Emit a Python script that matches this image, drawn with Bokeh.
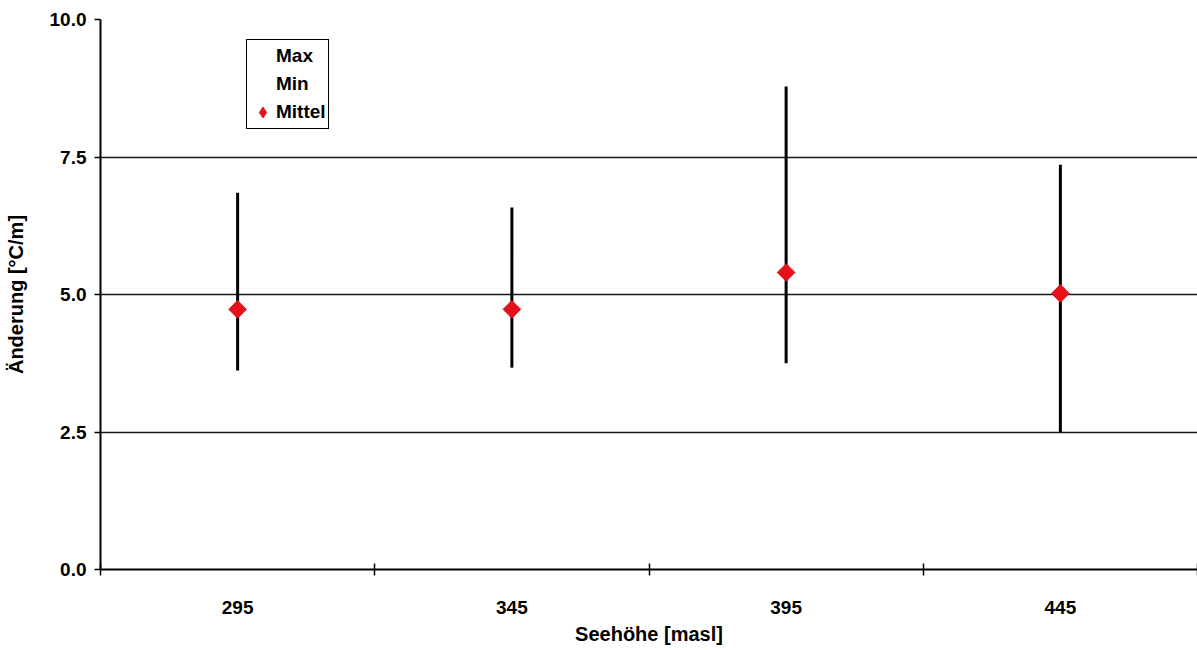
import numpy as np
from bokeh.plotting import figure
from bokeh.models import FixedTicker, Legend, LegendItem, ColumnDataSource
from bokeh.embed import file_html
from bokeh.resources import INLINE

# ---- data ----
categories = ["295", "345", "395", "445"]
max_vals = [6.85, 6.58, 8.78, 7.36]
min_vals = [3.62, 3.67, 3.75, 2.50]
mean_vals = [4.73, 4.73, 5.40, 5.02]
y_ticks = [0.0, 2.5, 5.0, 7.5, 10.0]

FONT = "Liberation Sans"
RED = "#E3121B"

xpos = [i + 0.5 for i in range(len(categories))]
bounds = list(range(len(categories) + 1))

src = ColumnDataSource(dict(x=xpos, mx=max_vals, mn=min_vals, mean=mean_vals))

p = figure(width=1197, height=650, output_backend="svg", toolbar_location=None,
           x_range=(0, len(categories)), y_range=(0, 10),
           min_border_left=100, min_border_right=0, min_border_top=19, min_border_bottom=81)
p.outline_line_color = None
p.background_fill_color = "white"
p.border_fill_color = "white"

# high-low lines
p.segment(x0="x", y0="mn", x1="x", y1="mx", source=src, line_color="black", line_width=3)
r_max = p.scatter(x="x", y="mx", source=src, size=0, fill_alpha=0, line_alpha=0)
r_min = p.scatter(x="x", y="mn", source=src, size=0, fill_alpha=0, line_alpha=0)
p.scatter(x="x", y="mean", source=src, marker="square", angle=np.pi / 4,
          size=12.5, fill_color=RED, line_color=RED)
# legend proxy for the mean series (diamond shape in the legend)
r_mean_leg = p.scatter(x="x", y="mean", source=src, marker="diamond",
                       size=16, fill_color=RED, line_color=RED, visible=False)

# x axis
xa = p.xaxis[0]
xa.ticker = FixedTicker(ticks=xpos, minor_ticks=bounds)
xa.major_label_overrides = {x: c for x, c in zip(xpos, categories)}
xa.major_tick_in = 0
xa.major_tick_out = 0
xa.minor_tick_in = 6
xa.minor_tick_out = 6
xa.minor_tick_line_color = "black"
xa.minor_tick_line_width = 1.5
xa.axis_line_color = "black"
xa.axis_line_width = 2
xa.major_label_standoff = 25
xa.axis_label = "Seehöhe [masl]"
xa.axis_label_standoff = 6

# y axis
ya = p.yaxis[0]
ya.ticker = FixedTicker(ticks=y_ticks, minor_ticks=[])
ya.major_label_overrides = {t: f"{t:.1f}" for t in y_ticks}
ya.major_tick_in = 0
ya.major_tick_out = 6
ya.major_tick_line_color = "black"
ya.major_tick_line_width = 1.5
ya.axis_line_color = "black"
ya.axis_line_width = 2
ya.major_label_standoff = 8
ya.axis_label = "Änderung [°C/m]"
ya.axis_label_standoff = 20

for ax in (xa, ya):
    ax.major_label_text_font = FONT
    ax.major_label_text_font_style = "bold"
    ax.major_label_text_font_size = "19px"
    ax.major_label_text_color = "black"
    ax.axis_label_text_font = FONT
    ax.axis_label_text_font_style = "bold"
    ax.axis_label_text_font_size = "20px"
    ax.axis_label_text_color = "black"

p.xgrid.grid_line_color = None
p.ygrid.ticker = FixedTicker(ticks=y_ticks[1:])
p.ygrid.grid_line_color = "#1a1a1a"
p.ygrid.grid_line_width = 1.5

legend = Legend(items=[
    LegendItem(label="Max", renderers=[r_max]),
    LegendItem(label="Min", renderers=[r_min]),
    LegendItem(label="Mittel", renderers=[r_mean_leg]),
], location=(146, 440))
legend.border_line_color = "black"
legend.border_line_alpha = 1.0
legend.border_line_width = 1.5
legend.background_fill_color = "white"
legend.background_fill_alpha = 1
legend.padding = 2
legend.margin = 0
legend.spacing = 0
legend.glyph_width = 27
legend.glyph_height = 28
legend.label_height = 28
legend.label_standoff = 0
legend.label_text_font = FONT
legend.label_text_font_style = "bold"
legend.label_text_font_size = "19px"
legend.label_text_color = "black"
p.add_layout(legend, "center")

open("out.html", "w").write(file_html(p, INLINE))
